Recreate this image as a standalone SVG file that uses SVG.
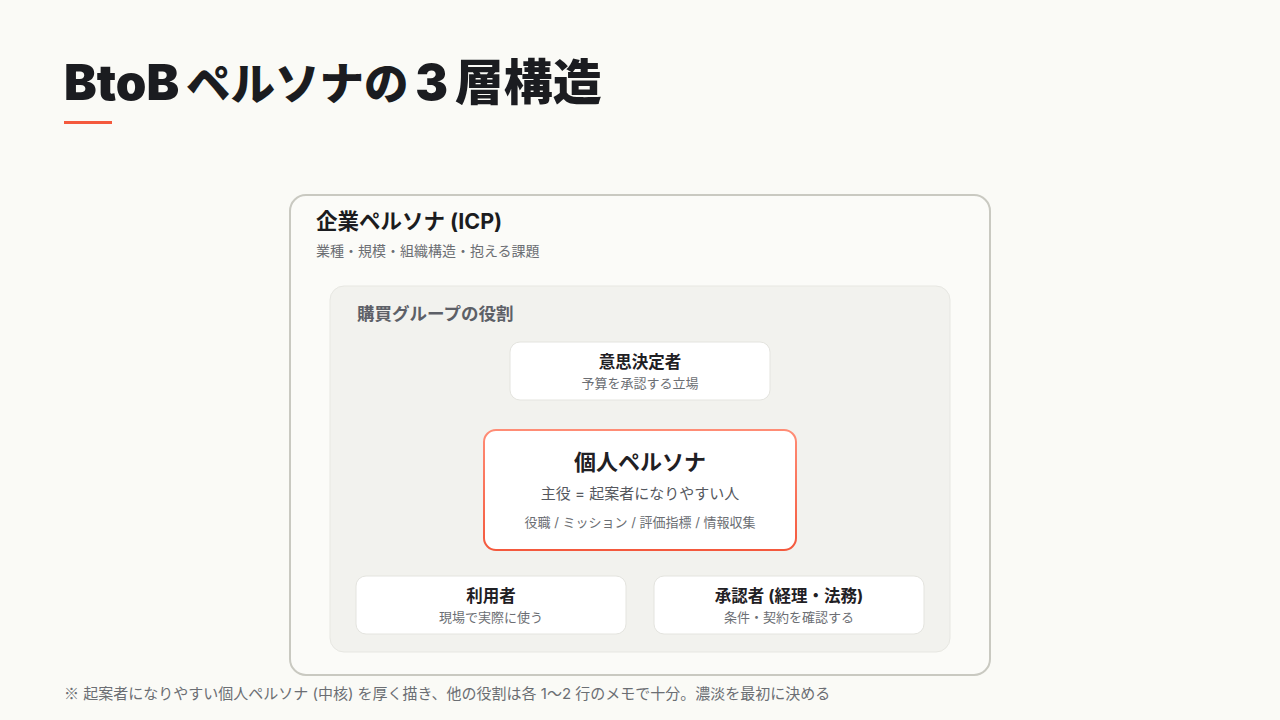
<svg xmlns="http://www.w3.org/2000/svg" width="1280" height="720" viewBox="0 0 1280 720">
<defs>
<linearGradient id="hl" x1="0" y1="0" x2="0" y2="1">
<stop offset="0" stop-color="#ff8d76"/>
<stop offset="1" stop-color="#f4593d"/>
</linearGradient>
<style>
.t{font-family:Inter,"Noto Sans CJK JP","Noto Sans",sans-serif}
.jp{font-family:"Noto Sans CJK JP",sans-serif}
.title{font-size:49px;font-weight:900;fill:#1b1c20;word-spacing:-3px}
.h1{font-size:21.5px;font-weight:700;fill:#1b1c20}
.sub{font-size:14px;fill:#6b6e73}
.h2{font-size:17.5px;font-weight:700;fill:#5d6067}
.nt{font-size:16.5px;font-weight:700;fill:#1f2024;text-anchor:middle}
.nd{font-size:13px;fill:#6b6e73;text-anchor:middle}
.card{fill:#ffffff;stroke:#e4e4df;stroke-width:1}
</style>
</defs>
<rect width="1280" height="720" fill="#fafaf6"/>
<text class="t title" x="64" y="100">BtoB <tspan font-size="44.5">ペルソナの</tspan> 3 層構造</text>
<rect x="64" y="121" width="48" height="3" fill="#f4593d"/>
<g id="icp">
<rect x="290" y="195" width="700" height="480" rx="16" fill="#fbfbf8" stroke="#c9c9c1" stroke-width="2"/>
<text class="t h1" x="316" y="229">企業ペルソナ (ICP)</text>
<text class="t sub" x="316" y="256">業種・規模・組織構造・抱える課題</text>
</g>
<g id="buying-group">
<rect x="330" y="286" width="620" height="366" rx="14" fill="#f2f2ee" stroke="#e7e7e2" stroke-width="1"/>
<text class="t h2" x="357" y="320">購買グループの役割</text>
</g>
<g id="connectors"></g>
<g id="decision-maker">
<rect class="card" x="510" y="342" width="260" height="58" rx="10"/>
<text class="t nt" x="640" y="368">意思決定者</text>
<text class="t nd" x="640" y="388">予算を承認する立場</text>
</g>
<g id="individual">
<rect x="484" y="430" width="312" height="120" rx="12" fill="#ffffff" stroke="url(#hl)" stroke-width="2"/>
<text class="t" x="640" y="470" text-anchor="middle" font-size="22" font-weight="700" fill="#1f2024">個人ペルソナ</text>
<text class="t" x="640" y="499" text-anchor="middle" font-size="15" fill="#55585e">主役 = 起案者になりやすい人</text>
<text class="t nd" x="640" y="527" font-size="13.3">役職 / ミッション / 評価指標 / 情報収集</text>
</g>
<g id="user">
<rect class="card" x="356" y="576" width="270" height="58" rx="10"/>
<text class="t nt" x="491" y="602">利用者</text>
<text class="t nd" x="491" y="622">現場で実際に使う</text>
</g>
<g id="approver">
<rect class="card" x="654" y="576" width="270" height="58" rx="10"/>
<text class="t nt" x="789" y="602">承認者 (経理・法務)</text>
<text class="t nd" x="789" y="622">条件・契約を確認する</text>
</g>
<text class="t" x="64" y="699" font-size="15" fill="#6b6e73"><tspan class="jp">※</tspan> 起案者になりやすい個人ペルソナ (中核) を厚く描き、他の役割は各 1〜2 行のメモで十分。濃淡を最初に決める</text>
</svg>
